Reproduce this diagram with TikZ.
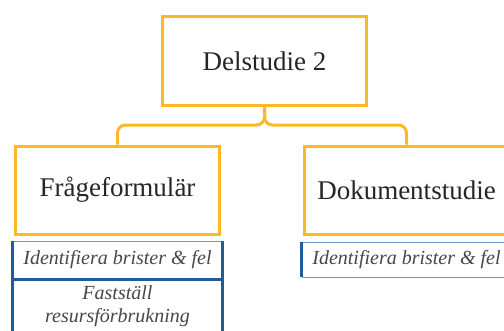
\documentclass[tikz,border=0pt]{standalone}
\usepackage{fontspec}
\setmainfont{Liberation Serif}
\definecolor{gold}{HTML}{FDB827}
\definecolor{darkblue}{HTML}{1F5C99}
\definecolor{lightblue}{HTML}{6A9BD0}
\definecolor{ink}{HTML}{262626}
\begin{document}
\begin{tikzpicture}[
    x=1pt, y=-1pt,
    study/.style={
      draw=gold,
      line width=3pt,
      fill=white,
      text=ink,
      minimum width=204pt,
      minimum height=88pt,
      inner sep=0pt,
      font=\fontsize{27}{30}\selectfont
    },
    task/.style={
      draw=lightblue,
      line width=0.8pt,
      fill=white,
      text=ink!85,
      minimum width=209pt,
      inner sep=0pt,
      align=center,
      font=\fontsize{20}{23}\selectfont\itshape
    },
    link/.style={
      draw=gold,
      line width=3pt,
      rounded corners=8pt
    },
    bar/.style={
      draw=darkblue,
      line width=3pt
    }
  ]
    \clip (0,0) rectangle (504,330);
    \useasboundingbox (0,0) rectangle (504,330);

    \node[study, minimum height=89pt] (delstudie) at (264.5,61) {Delstudie 2};
    \node[study] (enkat) at (117.5,190) {Frågeformulär};
    \node[study] (dokument) at (406.5,190) {Dokumentstudie};

    \draw[link] (delstudie.south) -- ++(0,18) -| (enkat.north);
    \draw[link] (delstudie.south) -- ++(0,18) -| (dokument.north);

    \node[task, minimum height=38pt] (brister1) at (117.5,260) {Identifiera brister \& fel};
    \node[task, minimum height=54pt] (resurs) at (117.5,306) {Fastställ\\resursförbrukning};
    \node[task, minimum height=35pt] (brister2) at (406.5,259.5) {Identifiera brister \& fel};

    \draw[bar] (brister1.north west) -- (resurs.south west);
    \draw[bar] (brister1.north east) -- (resurs.south east);
    \draw[bar] (brister1.south west) -- (brister1.south east);
    \draw[bar] (brister2.north west) -- (brister2.south west);
  \end{tikzpicture}
\end{document}
